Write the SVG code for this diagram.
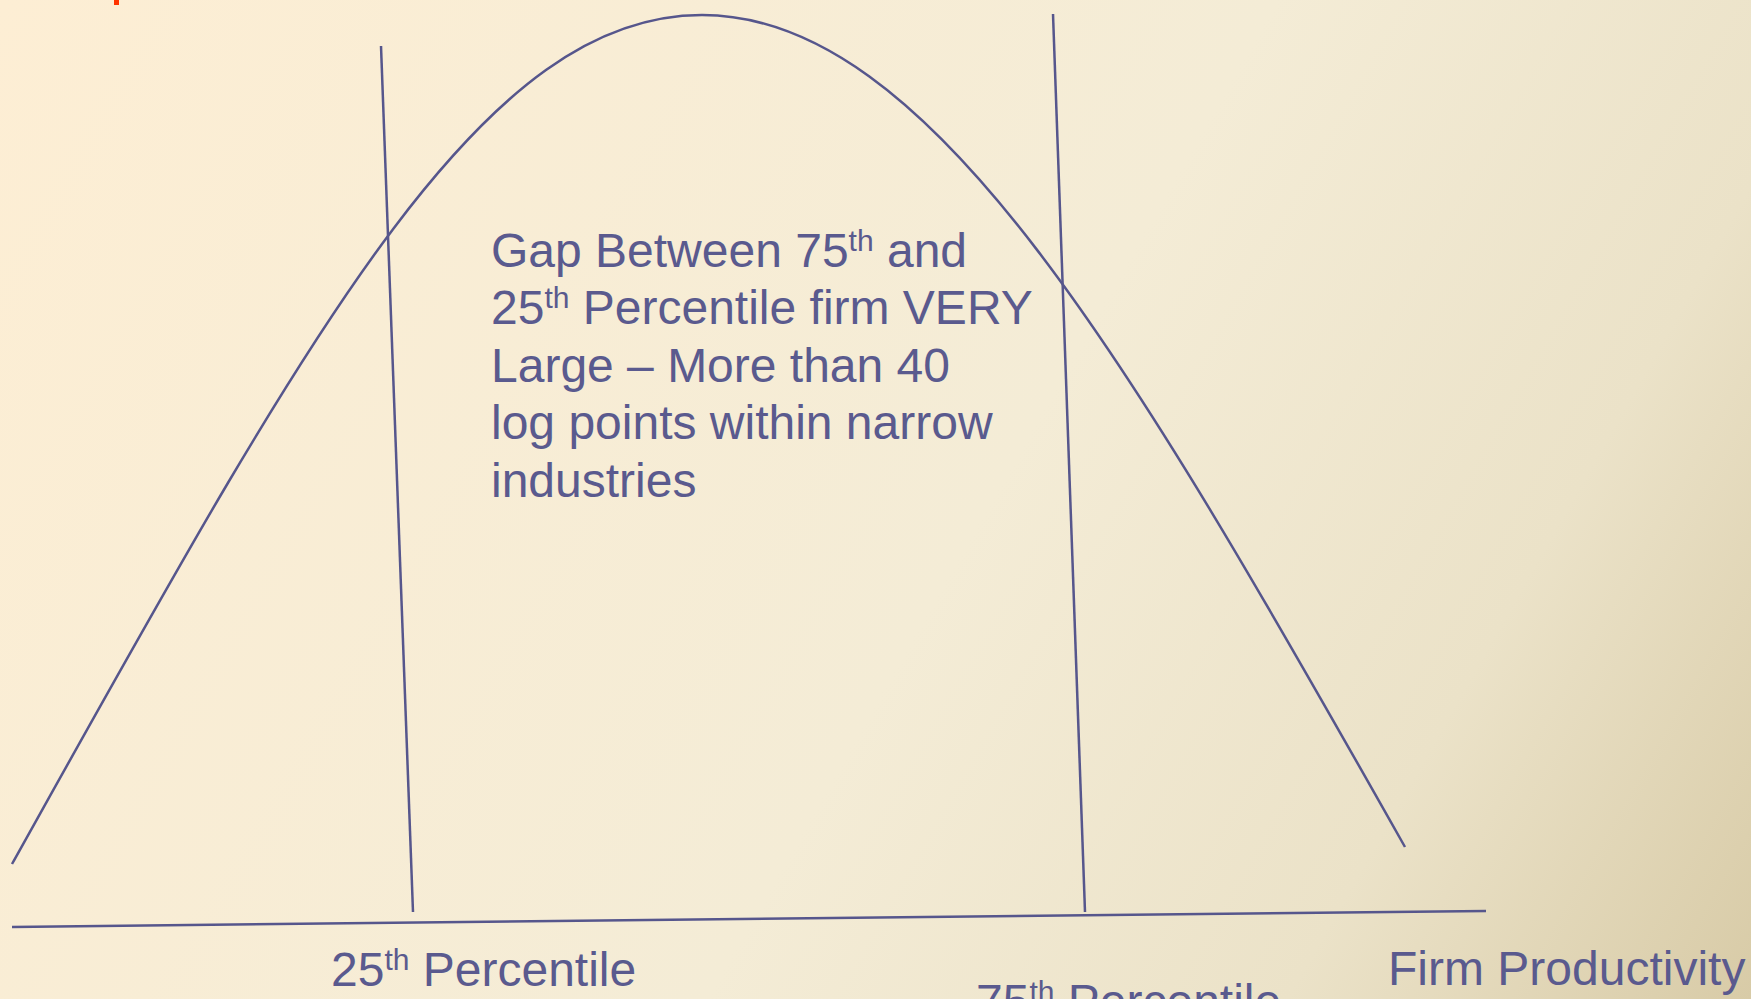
<svg xmlns="http://www.w3.org/2000/svg" width="1751" height="999" viewBox="0 0 1751 999">
<defs>
<linearGradient id="bg" x1="0" y1="0" x2="1751" y2="999" gradientUnits="userSpaceOnUse">
<stop offset="0" stop-color="#fdeed4"/>
<stop offset="0.55" stop-color="#f4ecd6"/>
<stop offset="0.8" stop-color="#ebe2c8"/>
<stop offset="1" stop-color="#d8cba7"/>
</linearGradient>
</defs>
<style>
.ln{fill:none;stroke:#56568c;stroke-width:2.5;stroke-linecap:butt}
.t{font-family:"Liberation Sans",Arial,sans-serif;fill:#5a5a8e}
.big{font-size:48px}
.lab{font-size:48px}
.sup{font-size:30px}
</style>
<rect x="0" y="0" width="1751" height="999" fill="url(#bg)"/>
<rect x="114" y="0" width="5" height="5" fill="#ff3300"/>
<g id="connectors">
<path id="curve" class="ln" d="M12,864 C310,330 480,15 702,15 C930,15 1130,360 1405,847"/>
<line id="p25line" class="ln" x1="381" y1="46" x2="413" y2="912"/>
<line id="p75line" class="ln" x1="1053" y1="14" x2="1085" y2="912"/>
<line id="axis" class="ln" x1="12" y1="927" x2="1486" y2="911"/>
</g>
<g id="note">
<text class="t big">
<tspan x="491" y="267">Gap Between 75<tspan class="sup" dy="-16">th</tspan><tspan dy="16"> and</tspan></tspan>
<tspan x="491" y="324">25<tspan class="sup" dy="-16">th</tspan><tspan dy="16"> Percentile firm VERY</tspan></tspan>
<tspan x="491" y="382">Large – More than 40</tspan>
<tspan x="491" y="439">log points within narrow</tspan>
<tspan x="491" y="497">industries</tspan>
</text>
</g>
<g id="label25">
<text class="t lab" x="331" y="986">25<tspan class="sup" dy="-16">th</tspan><tspan dy="16"> Percentile</tspan></text>
</g>
<g id="label75">
<text class="t lab" x="976" y="1018">75<tspan class="sup" dy="-16">th</tspan><tspan dy="16"> Percentile</tspan></text>
</g>
<g id="labelFirm">
<text class="t lab" x="1388" y="985">Firm Productivity</text>
</g>
</svg>
